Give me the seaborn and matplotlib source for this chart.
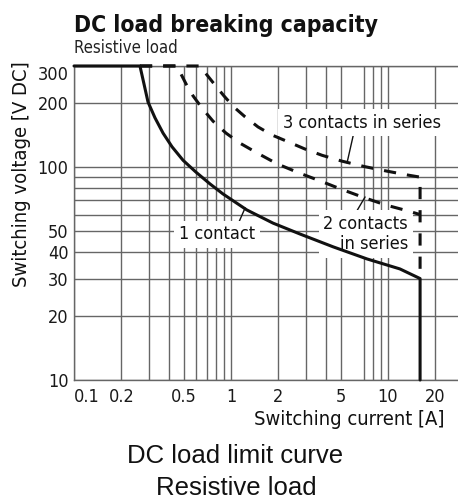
import matplotlib
matplotlib.use("Agg")
import matplotlib.pyplot as plt
import seaborn as sns
from matplotlib.ticker import NullFormatter

# Curve data (current in A, voltage in V DC)
current_1 = [0.1, 0.263, 0.279, 0.296, 0.328, 0.369, 0.421, 0.495, 0.598,
             0.735, 0.889, 1.26, 1.85, 2.75, 4.47, 7.35, 11.9, 16.0, 16.0]
voltage_1 = [300, 300, 247, 203, 171, 145, 125, 108, 95,
             83.6, 75, 63.1, 54.7, 48.6, 42.3, 37.1, 33.3, 30, 10]

current_2 = [0.263, 0.453, 0.480, 0.517, 0.573, 0.654, 0.768, 0.929, 1.141,
             1.464, 1.963, 2.67, 3.69, 5.09, 7.03, 9.7, 13.4, 16.0]
voltage_2 = [300, 300, 275, 247, 217, 190, 165, 145, 130,
             117, 104, 94.6, 86.4, 78.7, 72.1, 66.5, 62.4, 60]

current_3 = [0.263, 0.635, 0.703, 0.791, 0.901, 1.045, 1.228, 1.486, 1.824,
             2.307, 2.96, 3.80, 5.09, 7.03, 9.86, 13.4, 16.0, 16.0]
voltage_3 = [300, 300, 272, 244, 217, 192, 173, 155, 142,
             132, 122, 114, 107, 101, 96, 92, 90, 30]

x_ticks = [0.1, 0.2, 0.5, 1, 2, 5, 10, 20]
x_tick_labels = ["0.1", "0.2", "0.5", "1", "2", "5", "10", "20"]
x_minor = [0.3, 0.4, 0.6, 0.7, 0.8, 0.9, 3, 4, 7, 8, 9]
y_ticks = [10, 20, 30, 40, 50, 100, 200, 300]
y_tick_labels = ["10", "20", "30", "40", "50", "100", "200", "300"]
y_minor = [60, 70, 80, 90]

# label text, text position, point on curve, leader start on text (relpos)
labels = ["1 contact", "2 contacts\nin series", "3 contacts in series"]
label_pos = [(0.815, 48.6), (13.4, 48.6), (6.82, 162)]
label_target = [(1.23, 64.5), (7.14, 72.6), (5.48, 105)]
label_relpos = [(0.77, 1.0), (0.37, 1.0), (0.45, 0.0)]
label_ha = ["center", "right", "center"]

sns.set_style("white")
COND = ["DejaVu Sans"]
plt.rcParams["font.family"] = COND
plt.rcParams["font.stretch"] = "condensed"

fig = plt.figure(figsize=(4.58, 4.99), dpi=100)
ax = fig.add_axes([0.1616, 0.2385, 0.8384, 0.6293])

ink = "#111111"
grid_c = "#666666"
dash = (0, (4.0, 3.6))

sns.lineplot(x=current_1, y=voltage_1, ax=ax, sort=False, estimator=None,
             color=ink, lw=2.2, clip_on=False, zorder=4)
sns.lineplot(x=current_2, y=voltage_2, ax=ax, sort=False, estimator=None,
             color=ink, lw=2.2, linestyle=dash, clip_on=False, zorder=4)
sns.lineplot(x=current_3, y=voltage_3, ax=ax, sort=False, estimator=None,
             color=ink, lw=2.2, linestyle=dash, clip_on=False, zorder=4)

ax.set_xscale("log")
ax.set_yscale("log")
ax.set_xlim(0.1, 27.9)
ax.set_ylim(10, 300)

ax.set_xticks(x_ticks, labels=x_tick_labels)
ax.set_xticks(x_minor, minor=True)
ax.set_yticks(y_ticks, labels=y_tick_labels)
ax.set_yticks(y_minor, minor=True)
ax.xaxis.set_minor_formatter(NullFormatter())
ax.yaxis.set_minor_formatter(NullFormatter())
ax.tick_params(which="both", length=0, labelsize=13, colors="#1a1a1a")
ax.tick_params(axis="x", pad=6)
ax.tick_params(axis="y", pad=4)
ax.xaxis.get_majorticklabels()[0].set_horizontalalignment("left")
ax.yaxis.get_majorticklabels()[-1].set_verticalalignment("top")

ax.grid(True, which="both", color=grid_c, lw=1.0)
ax.set_axisbelow(True)
for side in ["left", "bottom", "top"]:
    ax.spines[side].set_color(grid_c)
    ax.spines[side].set_linewidth(1.0)
ax.spines["right"].set_visible(False)

ax.set_ylabel("Switching voltage [V DC]", fontsize=14.5, color=ink)
ax.yaxis.set_label_coords(-0.112, 0.657)
ax.set_xlabel("Switching current [A]", fontsize=14.5, color=ink, loc="right")
ax.xaxis.set_label_coords(0.966, -0.095)

for text, pos, target, rel, ha in zip(labels, label_pos, label_target,
                                      label_relpos, label_ha):
    ax.annotate(text, xy=target, xytext=pos, ha=ha, va="center",
                multialignment="right", fontsize=13, color=ink, zorder=3,
                bbox=dict(boxstyle="square,pad=0.25", fc="white", ec="none"),
                arrowprops=dict(arrowstyle="-", color=ink, lw=1.0,
                                patchA=None, relpos=rel, shrinkA=1, shrinkB=0))

fig.text(0.1616, 0.9359, "DC load breaking capacity", fontsize=16.5,
         fontweight="bold", va="baseline", ha="left", color=ink)
fig.text(0.1616, 0.8938, "Resistive load", fontsize=12, va="baseline",
         ha="left", color="#222222")

fig.text(0.513, 0.0721, "DC load limit curve", fontsize=18.5, va="baseline",
         ha="center", family=["Liberation Sans", "DejaVu Sans"],
         fontstretch="normal", color=ink)
fig.text(0.515, 0.008, "Resistive load", fontsize=18.5, va="baseline",
         ha="center", family=["Liberation Sans", "DejaVu Sans"],
         fontstretch="normal", color=ink)

fig.savefig("out.png", dpi=100)
